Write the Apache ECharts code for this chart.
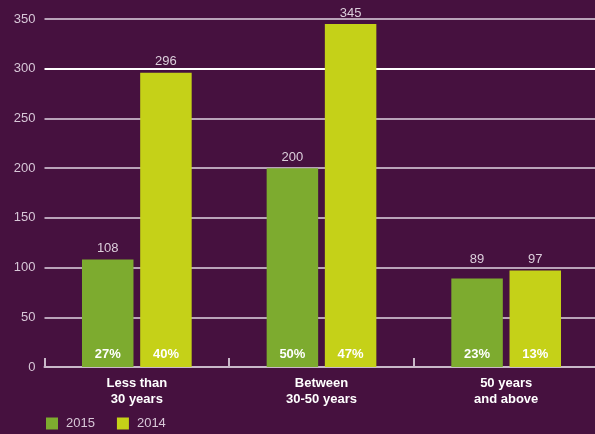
<!DOCTYPE html>
<html>
<head>
<meta charset="utf-8">
<script src="https://cdn.jsdelivr.net/npm/echarts@6/dist/echarts.min.js"></script>
<style>
  html, body { margin: 0; padding: 0; background: #46113f; }
  #chart { width: 595px; height: 434px; }
</style>
</head>
<body>
<div id="chart"></div>
<script>
// Employees by age group, with share of total per year
const categories = ['Less than\n30 years', 'Between\n30-50 years', '50 years\nand above'];
const values2015 = [108, 200, 89];
const values2014 = [296, 345, 97];
const share2015 = ['27%', '50%', '23%'];
const share2014 = ['40%', '47%', '13%'];
const yTicks = [0, 50, 100, 150, 200, 250, 300, 350];

const FONT = 'Liberation Sans, Arial, sans-serif';
const GREEN = '#7dab2f';
const LIME = '#c5d118';
const BAR_W = 51.5;
const BAR_GAP = '13%';

// Visible bars with their value above
const valueSeries = (name, values, color) => ({
  name: name,
  type: 'bar',
  data: values,
  barWidth: BAR_W,
  barGap: BAR_GAP,
  itemStyle: { color: color },
  label: {
    show: true,
    position: 'top',
    distance: 4.5,
    color: '#dccfdc',
    fontFamily: FONT,
    fontSize: 13,
    formatter: p => String(p.value)
  }
});

// Transparent twin bars carrying the share text at the foot of each bar
const shareSeries = (name, values, shares) => ({
  name: name,
  type: 'bar',
  xAxisIndex: 1,
  data: values,
  barWidth: BAR_W,
  barGap: BAR_GAP,
  itemStyle: { color: 'transparent' },
  silent: true,
  z: 5,
  label: {
    show: true,
    position: 'insideBottom',
    distance: 6,
    color: '#ffffff',
    fontFamily: FONT,
    fontWeight: 'bold',
    fontSize: 13,
    formatter: p => shares[p.dataIndex]
  }
});

const chart = echarts.init(document.getElementById('chart'));

const option = {
  backgroundColor: '#46113f',
  animation: false,
  // plot runs slightly past the right edge of the canvas
  grid: {
    left: 44.5, width: 554, top: 19, bottom: 67,
    containLabel: false,
    outerBoundsMode: 'none'
  },
  legend: {
    data: ['2015', '2014'],
    left: 46,
    top: 417,
    padding: 0,
    itemWidth: 12,
    itemHeight: 12,
    itemGap: 22,
    icon: 'rect',
    textStyle: { color: '#d8c8d8', fontFamily: FONT, fontSize: 13, padding: [0, 0, 0, 3] }
  },
  xAxis: [{
    type: 'category',
    data: categories,
    axisLine: { show: true, lineStyle: { color: '#c9b8c9', width: 2 } },
    axisTick: { show: true, inside: true, length: 9, lineStyle: { color: '#c9b8c9', width: 2 } },
    axisLabel: {
      color: '#ffffff',
      fontFamily: FONT,
      fontWeight: 'bold',
      fontSize: 13,
      lineHeight: 16,
      margin: 8
    }
  }, {
    type: 'category',
    data: categories,
    show: false
  }],
  yAxis: {
    type: 'value',
    min: 0,
    max: 350,
    interval: 50,
    axisLine: { show: false },
    axisTick: { show: false },
    axisLabel: {
      color: '#d8c8d8',
      fontFamily: FONT,
      fontSize: 13,
      margin: 9,
      formatter: v => yTicks.includes(v) ? String(v) : ''
    },
    splitLine: {
      lineStyle: {
        color: ['#b9a3b9', '#b9a3b9', '#b9a3b9', '#b9a3b9', '#b9a3b9', '#b9a3b9', '#ffffff', '#b9a3b9'],
        width: 2
      }
    }
  },
  series: [
    valueSeries('2015', values2015, GREEN),
    valueSeries('2014', values2014, LIME),
    shareSeries('share2015', values2015, share2015),
    shareSeries('share2014', values2014, share2014)
  ]
};

chart.setOption(option);

// When two bars in a group are close in height, lift the lower value label
// to the level of the taller one so both read on one line.
function levelLabels(own, other) {
  return own.map((v, i) => {
    const top = Math.max(v, other[i]);
    if (v >= top || top - v > 15) return v;
    const lift = chart.convertToPixel({ yAxisIndex: 0 }, v) - chart.convertToPixel({ yAxisIndex: 0 }, top);
    return { value: v, label: { offset: [0, -lift] } };
  });
}

chart.setOption({
  series: [
    { data: levelLabels(values2015, values2014) },
    { data: levelLabels(values2014, values2015) }
  ]
});
</script>
</body>
</html>
